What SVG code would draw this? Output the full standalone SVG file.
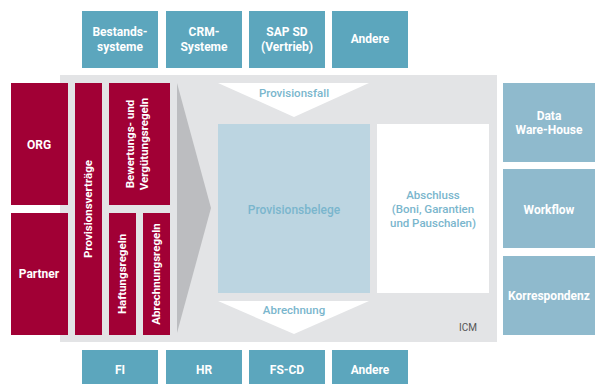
<svg xmlns="http://www.w3.org/2000/svg" width="595" height="384" viewBox="0 0 595 384">
<style>
.t{font-family:Roboto,"Liberation Sans",sans-serif;font-weight:bold;font-size:12px;fill:#ffffff;text-anchor:middle}
.r{font-family:Roboto,"Liberation Sans",sans-serif;font-weight:bold;font-size:11.5px;fill:#ffffff;text-anchor:middle}
.teal{fill:#5ca6bd}
.lt{fill:#8fbacd}
.red{fill:#a10035}
.bl{font-family:Roboto,"Liberation Sans",sans-serif;font-weight:500;font-size:11.5px;fill:#7ab6cd;text-anchor:middle}
</style>
<rect width="595" height="384" fill="#ffffff"/>
<g id="icm">
<rect x="60" y="75" width="437" height="267" fill="#e3e4e6"/>
<polygon points="177,83 211,208 177,333" fill="#bcbdc0"/>
<text x="468" y="331" font-family="Roboto,'Liberation Sans',sans-serif" font-size="10" fill="#555" text-anchor="middle">ICM</text>
</g>
<g id="top-systems">
<g id="bestands"><rect class="teal" x="82" y="11" width="76" height="57"/><text class="t" x="120" y="36">Bestands-</text><text class="t" x="120" y="51">systeme</text></g>
<g id="crm"><rect class="teal" x="166" y="11" width="76" height="57"/><text class="t" x="204" y="36">CRM-</text><text class="t" x="204" y="51">Systeme</text></g>
<g id="sapsd"><rect class="teal" x="249" y="11" width="76" height="57"/><text class="t" x="287" y="36">SAP SD</text><text class="t" x="287" y="51">(Vertrieb)</text></g>
<g id="andere-top"><rect class="teal" x="332" y="11" width="76" height="57"/><text class="t" x="370" y="43">Andere</text></g>
</g>
<g id="bottom-systems">
<g id="fi"><rect class="teal" x="82" y="350" width="76" height="34"/><text class="t" x="120" y="374">FI</text></g>
<g id="hr"><rect class="teal" x="166" y="350" width="76" height="34"/><text class="t" x="204" y="374">HR</text></g>
<g id="fscd"><rect class="teal" x="249" y="350" width="76" height="34"/><text class="t" x="287" y="374">FS-CD</text></g>
<g id="andere-bottom"><rect class="teal" x="332" y="350" width="76" height="34"/><text class="t" x="370" y="374">Andere</text></g>
</g>
<g id="right-systems">
<g id="dwh"><rect class="lt" x="503" y="83" width="92" height="79"/><text class="t" x="549" y="120">Data</text><text class="t" x="549" y="134">Ware-House</text></g>
<g id="workflow"><rect class="lt" x="503" y="169" width="92" height="79"/><text class="t" x="549" y="214">Workflow</text></g>
<g id="korr"><rect class="lt" x="503" y="256" width="92" height="79"/><text class="t" x="549" y="300">Korrespondenz</text></g>
</g>
<g id="left-blocks">
<g id="org"><rect class="red" x="11" y="83" width="57" height="122"/><text class="t" x="39" y="149">ORG</text></g>
<g id="partner"><rect class="red" x="11" y="213" width="57" height="122"/><text class="t" x="39" y="278">Partner</text></g>
<g id="provvertraege"><rect class="red" x="75" y="83" width="27" height="252"/><text class="r" transform="translate(92,209) rotate(-90)">Provisionsverträge</text></g>
<g id="bewertung"><rect class="red" x="109" y="83" width="61" height="122"/><text class="r" transform="translate(134,144) rotate(-90)">Bewertungs- und</text><text class="r" transform="translate(148,144) rotate(-90)">Vergütungsregeln</text></g>
<g id="haftung"><rect class="red" x="109" y="213" width="27" height="122"/><text class="r" transform="translate(126,274) rotate(-90)">Haftungsregeln</text></g>
<g id="abrechnungsregeln"><rect class="red" x="143" y="213" width="27" height="122"/><text class="r" transform="translate(160,274) rotate(-90)">Abrechnungsregeln</text></g>
</g>
<g id="provisionsfall"><polygon points="218,83 369,83 294,117" fill="#ffffff"/><text class="bl" x="294" y="97">Provisionsfall</text></g>
<g id="provisionsbelege"><rect x="218" y="124" width="152" height="169" fill="#bcd5e1"/><text class="bl" x="294" y="214" style="font-size:12px">Provisionsbelege</text></g>
<g id="abschluss"><rect x="377" y="124" width="112" height="169" fill="#ffffff"/><text class="bl" x="433" y="199">Abschluss</text><text class="bl" x="433" y="213">(Boni, Garantien</text><text class="bl" x="433" y="227">und Pauschalen)</text></g>
<g id="abrechnung"><polygon points="218,301 369,301 294,334" fill="#ffffff"/><text class="bl" x="294" y="314">Abrechnung</text></g>
<g id="connectors"></g>
</svg>
